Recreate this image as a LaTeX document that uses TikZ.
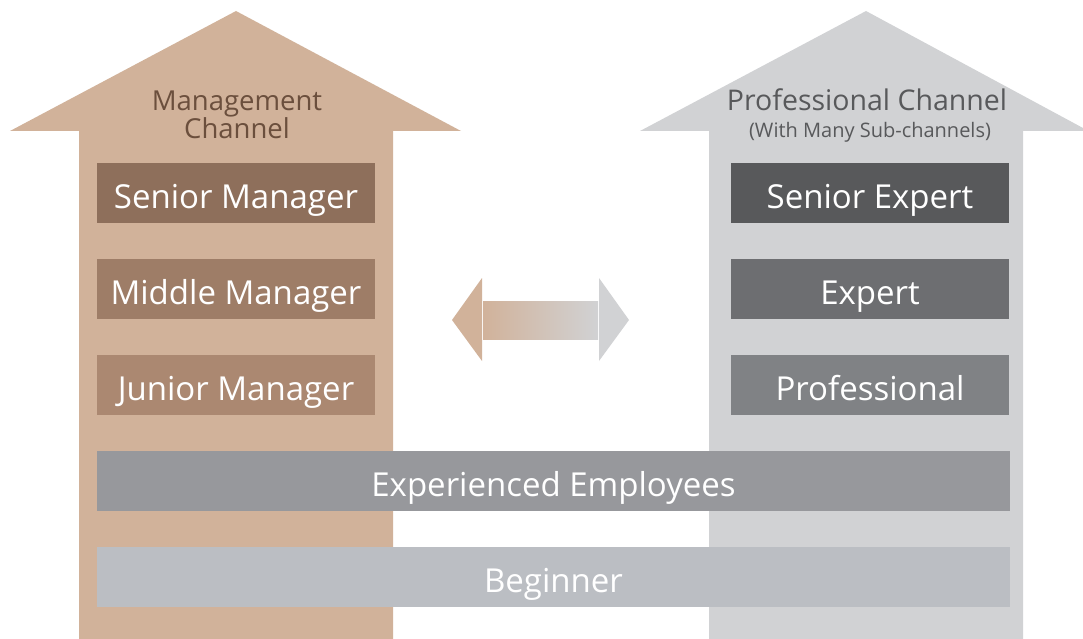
\documentclass[tikz,border=0pt]{standalone}
\usepackage{fontspec}
\setmainfont{Open Sans}
\usetikzlibrary{positioning}

\definecolor{mgmtarrow}{HTML}{D1B29A}
\definecolor{profarrow}{HTML}{D1D2D4}
\definecolor{mgmttext}{HTML}{6B4F3D}
\definecolor{proftext}{HTML}{58595B}
\definecolor{seniormgr}{HTML}{8E6F5B}
\definecolor{middlemgr}{HTML}{9E7D67}
\definecolor{juniormgr}{HTML}{AB8871}
\definecolor{seniorexp}{HTML}{58595B}
\definecolor{expert}{HTML}{6D6E71}
\definecolor{professional}{HTML}{808285}
\definecolor{experienced}{HTML}{97989C}
\definecolor{beginner}{HTML}{BBBEC3}

\begin{document}
\begin{tikzpicture}[
    x = 1pt, y = -1pt,
    level/.style = {
      rectangle, minimum width = 278pt, minimum height = 60pt,
      inner sep = 0pt, outer sep = 0pt, text = white,
      text height = 32pt, text depth = 2pt,
      font = \fontsize{33}{38}\selectfont
    },
    base/.style = {
      level, minimum width = 913pt
    },
    title/.style = {
      align = center, inner sep = 0pt, font = \fontsize{27.5}{28}\selectfont
    }
  ]
  \useasboundingbox (0,0) rectangle (1083,639);
  % the two channels
  \fill [mgmtarrow] (79,639) -- (79,131) -- (10,131) -- (236,11) -- (461,131)
    -- (393,131) -- (393,639) -- cycle;
  \fill [profarrow] (709,639) -- (709,131) -- (640,131) -- (866,11)
    -- (1083,128) -- (1083,131) -- (1023,131) -- (1023,639) -- cycle;
  \node (mgmt title) [title, text = mgmttext] at (237,115)
    {Management\\Channel};
  \node (prof title) [title, text = proftext, anchor = base,
    font = \fontsize{28.5}{30}\selectfont] at (867,111)
    {Professional Channel};
  \node (prof sub) [inner sep = 0pt, text = proftext, anchor = base,
    font = \fontsize{20}{22}\selectfont] at (870,138)
    {(With Many Sub-channels)};
  % exchange between channels
  \fill [mgmtarrow] (482,278) -- (452,320) -- (482,361) -- cycle;
  \shade [left color = mgmtarrow, right color = profarrow]
    (483,301) rectangle (598,339);
  \fill [profarrow] (599,278) -- (629,320) -- (599,361) -- cycle;
  % levels
  \node (senior manager) [level, fill = seniormgr] at (236,193) {Senior Manager};
  \node (middle manager) [level, fill = middlemgr, below = 36pt of senior manager]
    {Middle Manager};
  \node (junior manager) [level, fill = juniormgr, below = 36pt of middle manager]
    {Junior Manager};
  \node (senior expert) [level, fill = seniorexp] at (870,193) {Senior Expert};
  \node (expert) [level, fill = expert, below = 36pt of senior expert] {Expert};
  \node (professional) [level, fill = professional, below = 36pt of expert]
    {Professional};
  \node (experienced) [base, fill = experienced] at (553.5,481)
    {Experienced Employees};
  \node (beginner) [base, fill = beginner, below = 36pt of experienced]
    {Beginner};
\end{tikzpicture}
\end{document}
